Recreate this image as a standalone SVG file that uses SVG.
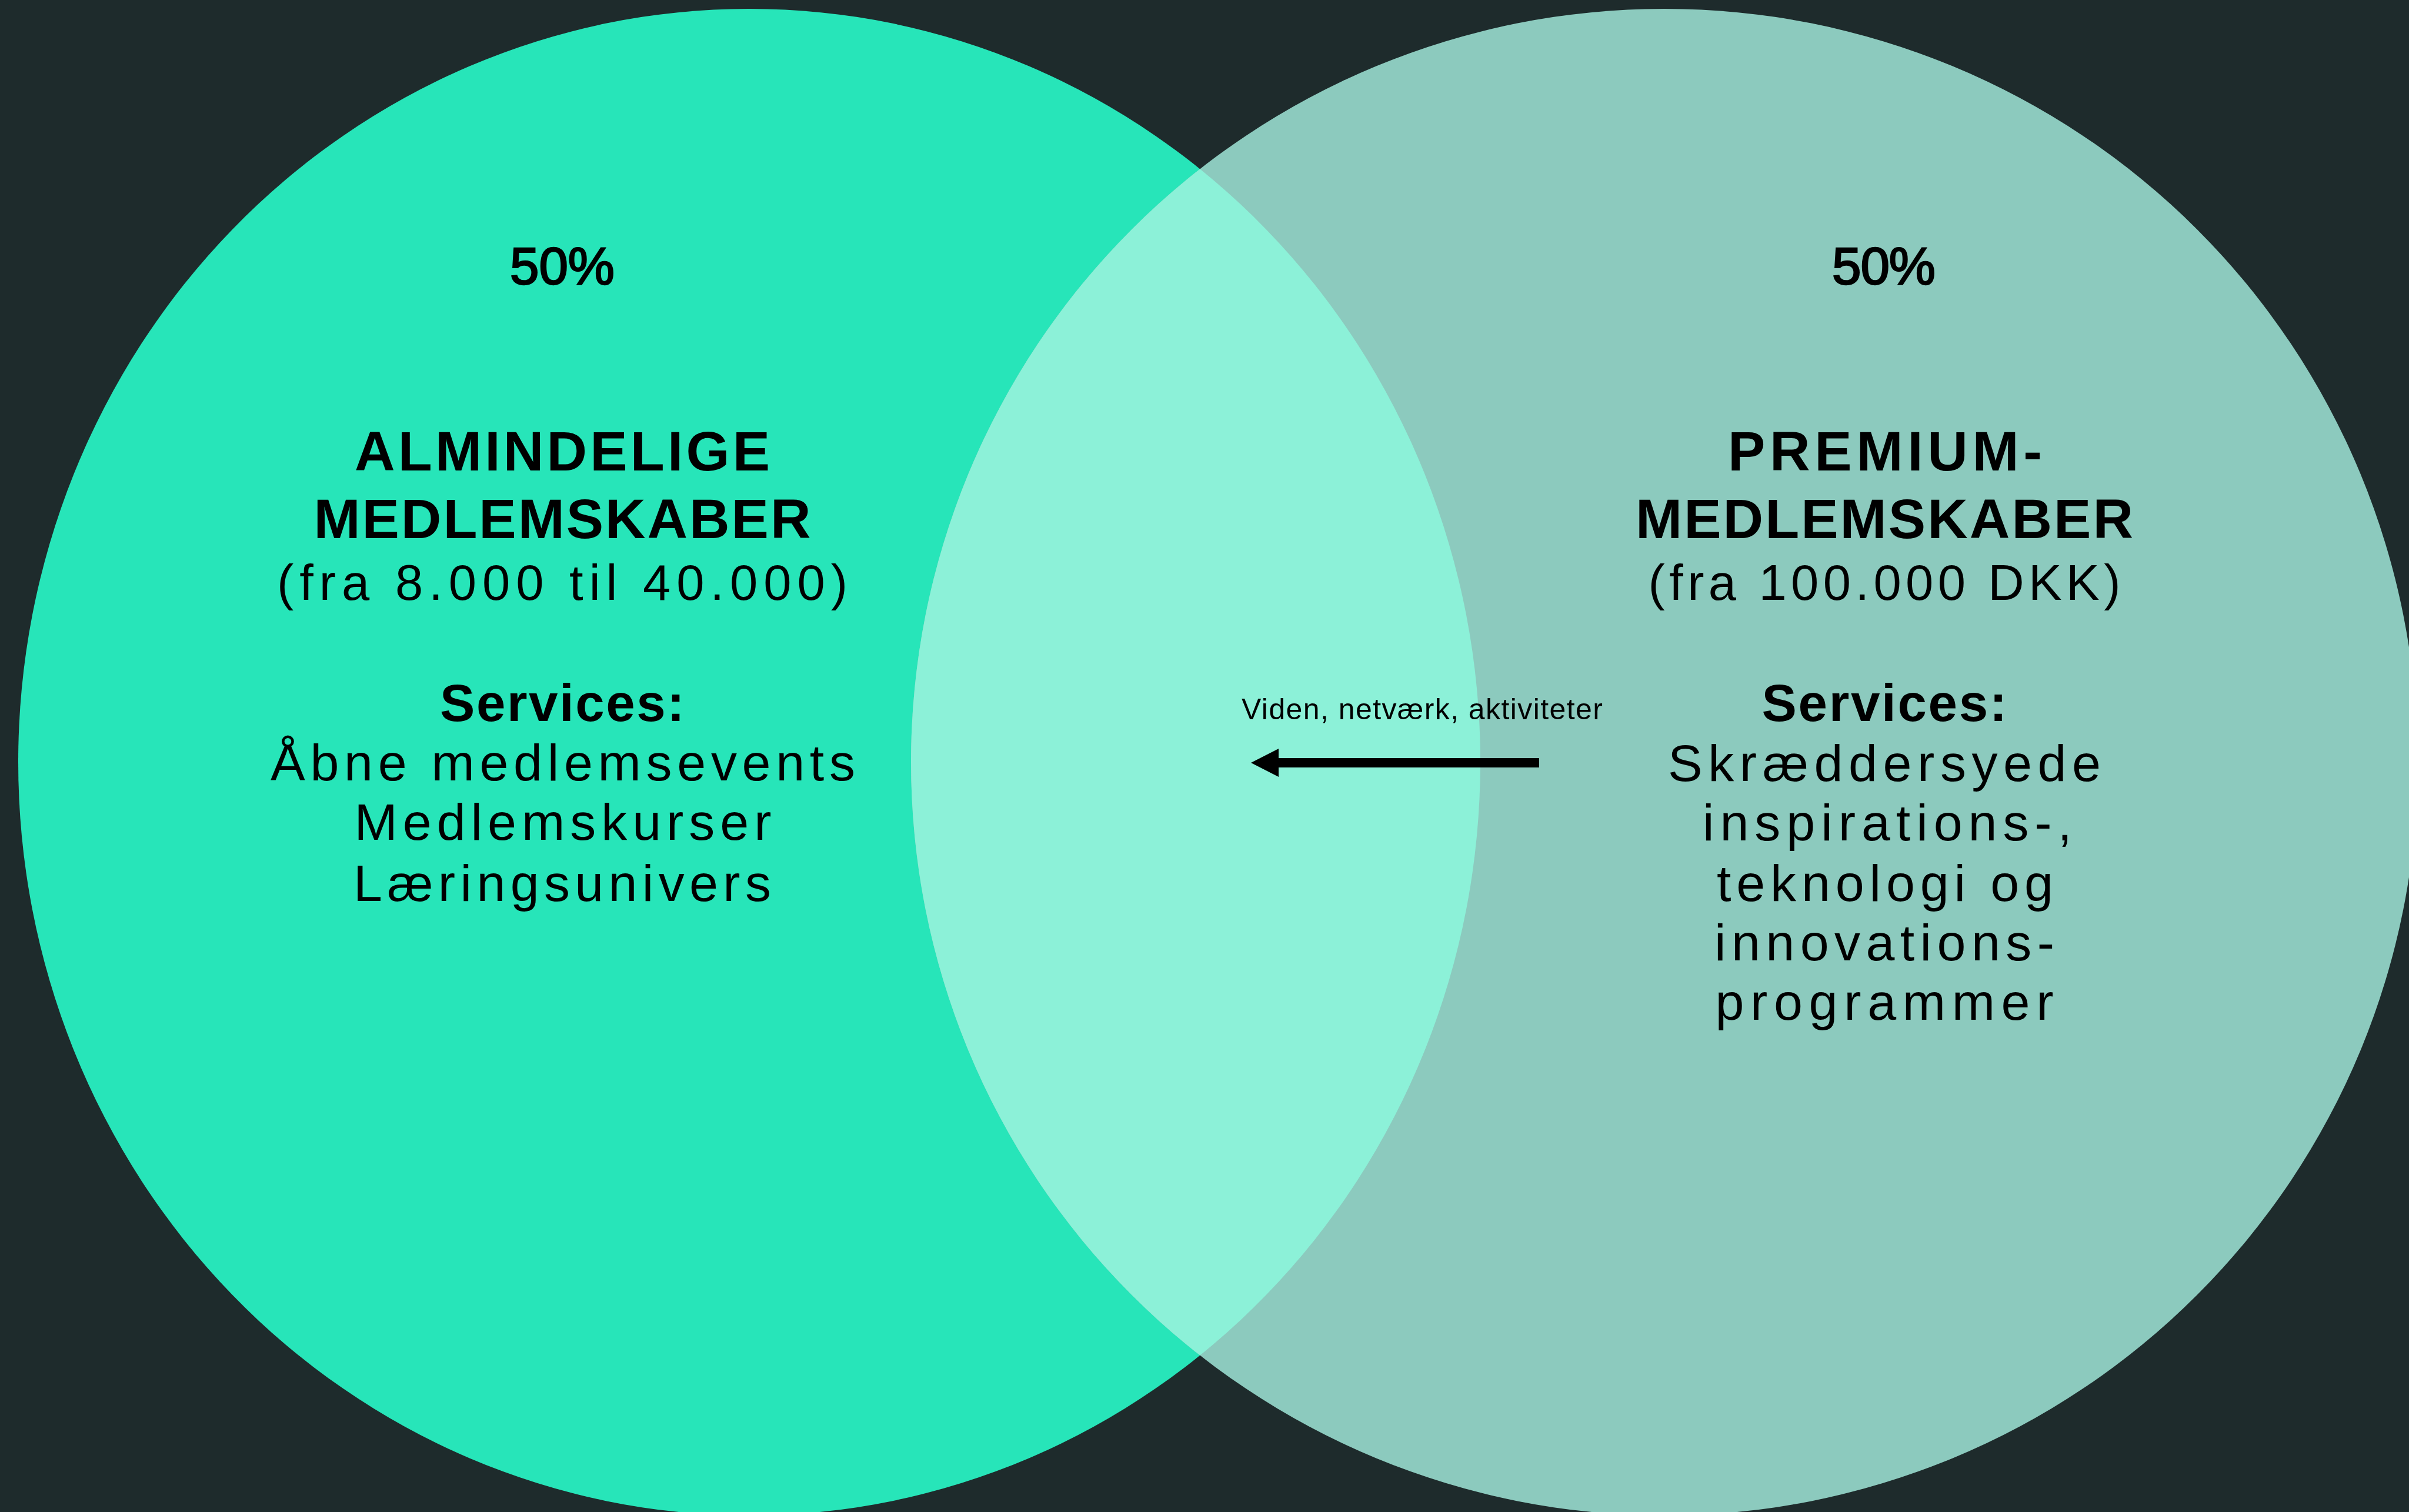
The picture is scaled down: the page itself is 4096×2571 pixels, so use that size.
<svg xmlns="http://www.w3.org/2000/svg" width="4096" height="2571" viewBox="0 0 4096 2571">
  <style>
    .t { font-family: "Liberation Sans", Arial, sans-serif; fill: #000000; text-anchor: middle; }
    .b { font-weight: bold; }
    .pct { font-size: 89px; stroke: #000000; stroke-width: 2.5px; }
    .head { font-size: 95px; }
    .price { font-size: 85px; }
    .svc { font-size: 89px; }
    .body { font-size: 88px; }
    .lbl { font-size: 50px; }
  </style>
  <defs>
    <clipPath id="clipLeft">
      <ellipse cx="1274" cy="1296" rx="1243" ry="1281"/>
    </clipPath>
    <marker id="arrowHead" markerUnits="userSpaceOnUse" markerWidth="48" markerHeight="48" refX="0" refY="24" orient="auto" viewBox="0 0 48 48">
      <path d="M0,0 L47,24 L0,48 Z" fill="#000000"/>
    </marker>
  </defs>

  <rect id="background" x="0" y="0" width="4096" height="2571" fill="#1e2b2c"/>

  <g id="left-set">
    <ellipse cx="1274" cy="1296" rx="1243" ry="1281" fill="#27e5b9"/>
  </g>
  <g id="right-set">
    <circle cx="2830" cy="1296" r="1281" fill="#8ccabe"/>
  </g>
  <g id="overlap">
    <circle cx="2830" cy="1296" r="1281" fill="#8cf1d8" clip-path="url(#clipLeft)"/>
  </g>

  <g id="left-text">
    <text class="t pct" x="956" y="483" textLength="178" lengthAdjust="spacing">50%</text>
    <text class="t b head" x="956" y="800" textLength="706" lengthAdjust="spacing">ALMINDELIGE</text>
    <text class="t b head" x="956" y="915" textLength="845" lengthAdjust="spacing">MEDLEMSKABER</text>
    <text class="t price" x="956" y="1020" textLength="970" lengthAdjust="spacing">(fra 8.000 til 40.000)</text>
    <text class="t b svc" x="956" y="1226" textLength="416" lengthAdjust="spacing">Services:</text>
    <text class="t body" x="957" y="1327" textLength="994" lengthAdjust="spacing">Åbne medlemsevents</text>
    <text class="t body" x="957" y="1428" textLength="709" lengthAdjust="spacing">Medlemskurser</text>
    <text class="t body" x="956" y="1532" textLength="710" lengthAdjust="spacing">Læringsunivers</text>
  </g>

  <g id="right-text">
    <text class="t pct" x="3203" y="483" textLength="176" lengthAdjust="spacing">50%</text>
    <text class="t b head" x="3205" y="800" textLength="534" lengthAdjust="spacing">PREMIUM-</text>
    <text class="t b head" x="3204" y="915" textLength="846" lengthAdjust="spacing">MEDLEMSKABER</text>
    <text class="t price" x="3204" y="1020" textLength="803" lengthAdjust="spacing">(fra 100.000 DKK)</text>
    <text class="t b svc" x="3204" y="1226" textLength="417" lengthAdjust="spacing">Services:</text>
    <text class="t body" x="3204" y="1328" textLength="736" lengthAdjust="spacing">Skræddersyede</text>
    <text class="t body" x="3209" y="1429" textLength="628" lengthAdjust="spacing">inspirations-,</text>
    <text class="t body" x="3205" y="1532" textLength="572" lengthAdjust="spacing">teknologi og</text>
    <text class="t body" x="3204" y="1633" textLength="578" lengthAdjust="spacing">innovations-</text>
    <text class="t body" x="3204" y="1734" textLength="575" lengthAdjust="spacing">programmer</text>
  </g>

  <g id="connectors">
    <line x1="2617" y1="1297" x2="2174" y2="1297" stroke="#000000" stroke-width="16" marker-end="url(#arrowHead)"/>
    <text class="t lbl" x="2418" y="1223" textLength="614" lengthAdjust="spacing">Viden, netværk, aktiviteter</text>
  </g>
</svg>
